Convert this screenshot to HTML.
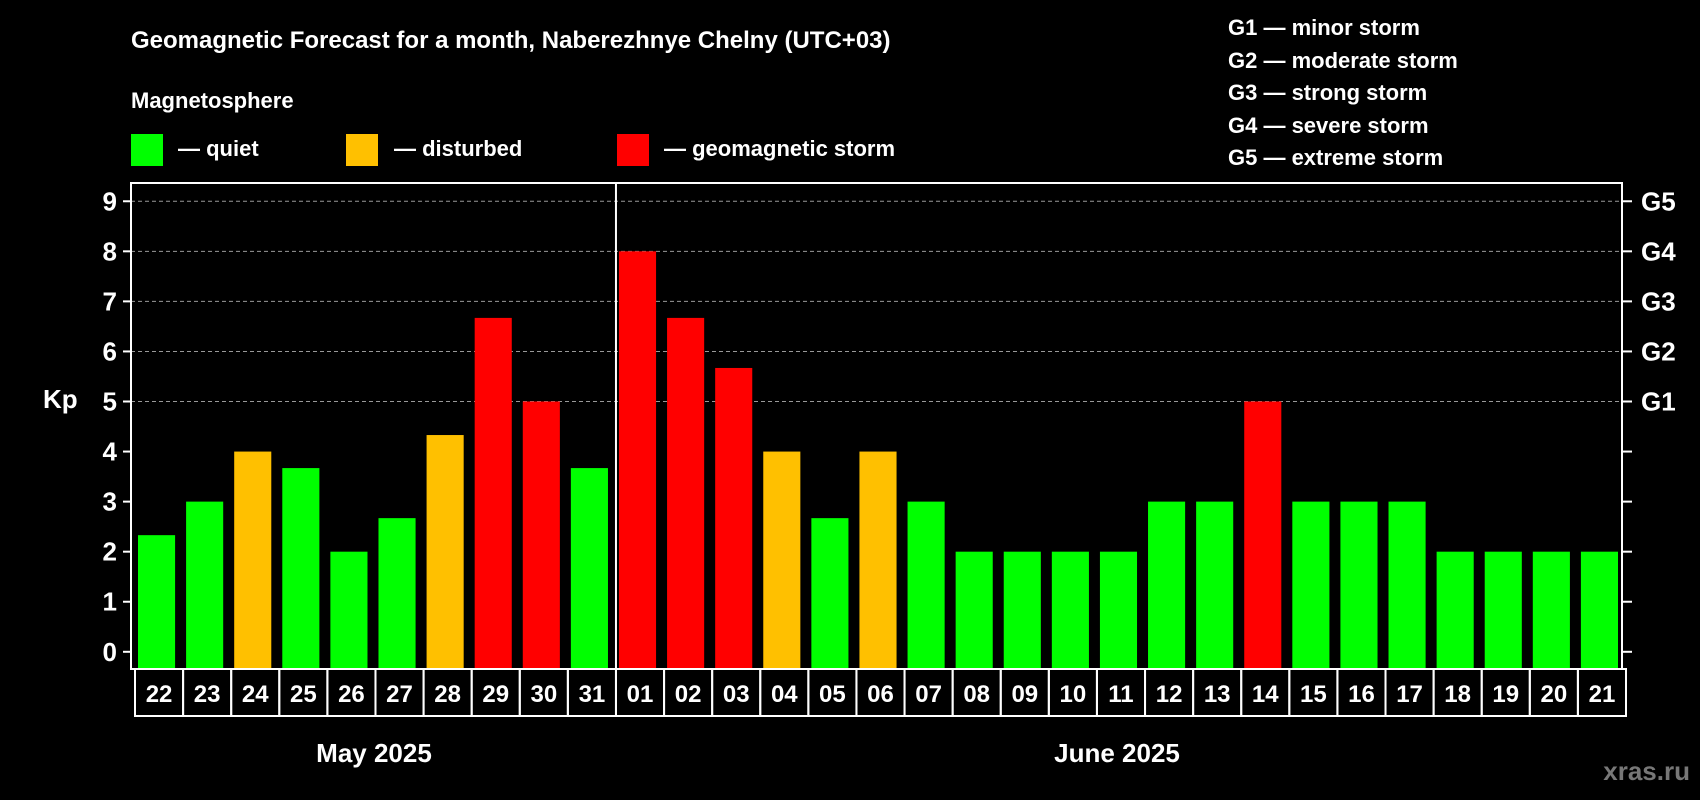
<!DOCTYPE html>
<html><head><meta charset="utf-8"><style>
body{margin:0;background:#000;}
svg{display:block;font-family:"Liberation Sans",Arial,sans-serif;font-weight:bold;}
</style></head><body>
<svg id="chart" width="1700" height="800" viewBox="0 0 1700 800">
<rect width="1700" height="800" fill="#000"/>
<text x="131" y="48" fill="#fff" font-size="24">Geomagnetic Forecast for a month, Naberezhnye Chelny (UTC+03)</text>
<text x="131" y="108" fill="#fff" font-size="22">Magnetosphere</text>
<g><rect x="131" y="134" width="32" height="32" fill="#00ff00"/><text x="178" y="156" fill="#fff" font-size="22">— quiet</text></g>
<g><rect x="346" y="134" width="32" height="32" fill="#ffc000"/><text x="394" y="156" fill="#fff" font-size="22">— disturbed</text></g>
<g><rect x="617" y="134" width="32" height="32" fill="#ff0000"/><text x="664" y="156" fill="#fff" font-size="22">— geomagnetic storm</text></g>
<g fill="#fff" font-size="22">
<text x="1228" y="35">G1 — minor storm</text>
<text x="1228" y="68">G2 — moderate storm</text>
<text x="1228" y="100">G3 — strong storm</text>
<text x="1228" y="133">G4 — severe storm</text>
<text x="1228" y="165">G5 — extreme storm</text>
</g>
<text x="43" y="408" fill="#fff" font-size="26">Kp</text>
<text x="374" y="762" fill="#fff" font-size="26" text-anchor="middle">May 2025</text>
<text x="1117" y="762" fill="#fff" font-size="26" text-anchor="middle">June 2025</text>
<text x="1690" y="780" fill="#777" font-size="26" text-anchor="end">xras.ru</text>
<g id="grid"></g><g id="bars"></g><g id="labels"></g><g id="axes"></g>
</svg>
<script>
const days = ["22","23","24","25","26","27","28","29","30","31","01","02","03","04","05","06","07","08","09","10","11","12","13","14","15","16","17","18","19","20","21"];
const kpValues = [2.33,3,4,3.67,2,2.67,4.33,6.67,5,3.67,8,6.67,5.67,4,2.67,4,3,2,2,2,2,3,3,5,3,3,3,2,2,2,2];
const yTicks = [0,1,2,3,4,5,6,7,8,9];
const gLabels = ["G1","G2","G3","G4","G5"];
const gLevels = [5,6,7,8,9];
const monthBoundaryIndex = 10;

const NS="http://www.w3.org/2000/svg";
const L=131,R=1622,T=183,B=669;
const slot=(R-L)/days.length;
const y=v=>651.8-v*50.06;
const x=i=>L+i*slot;
function mk(tag,attrs,parent){const e=document.createElementNS(NS,tag);for(const k in attrs)e.setAttribute(k,attrs[k]);document.getElementById(parent).appendChild(e);return e;}
function color(v){return v>=5?"#ff0000":v>=4?"#ffc000":"#00ff00";}

yTicks.forEach(t=>{
  if(t>=5){const g=mk("line",{x1:L,x2:R,y1:y(t),y2:y(t),stroke:"#999","stroke-dasharray":"4,3","stroke-width":1},"grid");
  
  }
  const tk=mk("line",{x1:L-8,x2:L,y1:y(t),y2:y(t),stroke:"#fff","stroke-width":2},"axes");
  
  
  const rt=mk("line",{x1:R,x2:R+10,y1:y(t),y2:y(t),stroke:"#fff","stroke-width":2},"axes");
  
  
  const tl=mk("text",{x:L-14,y:y(t)+9,fill:"#fff","font-size":26,"text-anchor":"end"},"axes");
  tl.textContent=t;
  
  
});
gLabels.forEach((g,i)=>{
  const t=mk("text",{x:1641,y:y(gLevels[i])+9,fill:"#fff","font-size":26},"axes");
  t.textContent=g;
  
  
});
kpValues.forEach((v,i)=>{
  const b=mk("rect",{x:x(i)+7,y:y(v),width:slot-6-7+6-4,height:B-y(v),fill:color(v)},"bars");
  
  
});
days.forEach((d,i)=>{
  const r=mk("rect",{x:x(i)+4,y:B,width:slot,height:47,fill:"none",stroke:"#fff","stroke-width":2},"labels");
  
  
  const t=mk("text",{x:x(i)+4+slot/2,y:B+33,fill:"#fff","font-size":24,"text-anchor":"middle"},"labels");
  t.textContent=d;
  
  
});
const fr=mk("rect",{x:L,y:T,width:R-L,height:B-T,fill:"none",stroke:"#fff","stroke-width":2},"axes");


const dv=mk("line",{x1:x(monthBoundaryIndex)+4,x2:x(monthBoundaryIndex)+4,y1:T,y2:B,stroke:"#fff","stroke-width":2},"axes");


</script>
</body></html>
